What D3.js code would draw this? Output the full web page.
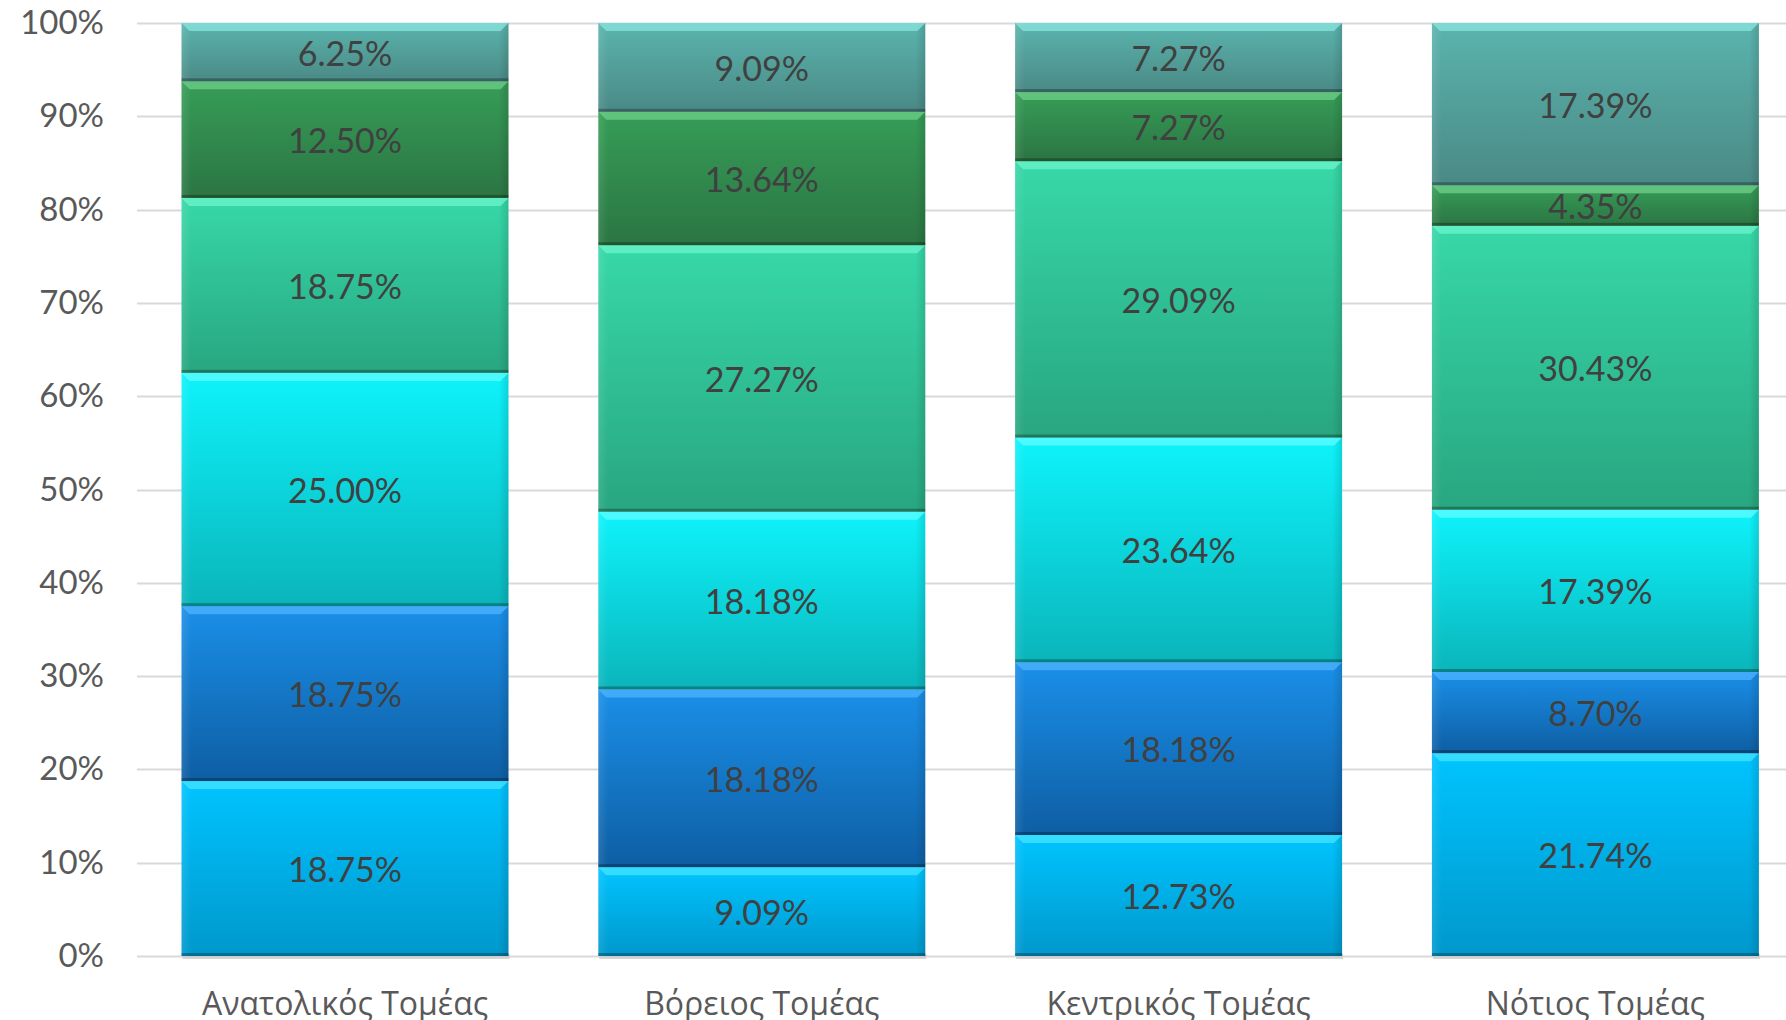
<!DOCTYPE html>
<html>
<head>
<meta charset="utf-8">
<script src="https://cdn.jsdelivr.net/npm/d3@7"></script>
<style>
  html, body { margin: 0; padding: 0; background: #fff; }
  svg { display: block; }
</style>
</head>
<body>
<div id="chart"></div>
<script>
// sectors (x axis)
const sectors = ['Ανατολικός Τομέας', 'Βόρειος Τομέας', 'Κεντρικός Τομέας', 'Νότιος Τομέας'];

// series values, bottom to top (percent labels as printed)
const s1 = [18.75, 9.09, 12.73, 21.74];
const s2 = [18.75, 18.18, 18.18, 8.70];
const s3 = [25.00, 18.18, 23.64, 17.39];
const s4 = [18.75, 27.27, 29.09, 30.43];
const s5 = [12.50, 13.64, 7.27, 4.35];
const s6 = [6.25, 9.09, 7.27, 17.39];

const yTicks = [0, 0.1, 0.2, 0.3, 0.4, 0.5, 0.6, 0.7, 0.8, 0.9, 1];

// gradient stops per series: [top, bottom, highlight]
const palette = [
  ['#00c4ff', '#0098cc', '#45e4ff'],
  ['#1a8fe8', '#0e5ea3', '#4fb4ff'],
  ['#0ef3fb', '#0ab5bb', '#5ffcff'],
  ['#37d8a8', '#28a680', '#6cf5cc'],
  ['#369d57', '#2b7543', '#6fd08a'],
  ['#5bb4ae', '#4a8985', '#8be6df']
];

const W = 1786, H = 1020;
const series = [s1, s2, s3, s4, s5, s6];
const keys = series.map((_, i) => 'k' + i);
const rows = sectors.map((name, j) => {
	const r = { name };
	keys.forEach((k, i) => r[k] = series[i][j]);
	return r;
});

const stacked = d3.stack()
                  .keys(keys)
                  .offset(d3.stackOffsetExpand)(rows);

const x = d3.scaleBand()
            .domain(sectors)
            .range([136.6, 1803.8])
            .paddingInner(0.2155)
            .paddingOuter(0.2155 / 2);

const y = d3.scaleLinear()
            .domain([0, 1])
            .range([956, 23]);

const svg = d3.select('#chart').append('svg')
              .attr('width', W)
              .attr('height', H);

const defs = svg.append('defs');
palette.forEach((c, i) => {
	const g = defs.append('linearGradient')
	              .attr('id', 'grad' + i)
	              .attr('x1', 0).attr('y1', 0)
	              .attr('x2', 0).attr('y2', 1);
	g.append('stop').attr('offset', '0%').attr('stop-color', c[0]);
	g.append('stop').attr('offset', '100%').attr('stop-color', c[1]);
});
const side = defs.append('linearGradient')
                 .attr('id', 'side')
                 .attr('x1', 0).attr('y1', 0).attr('x2', 1).attr('y2', 0);
side.append('stop').attr('offset', '0%').attr('stop-color', '#ffffff').attr('stop-opacity', 0.10);
side.append('stop').attr('offset', '3%').attr('stop-color', '#ffffff').attr('stop-opacity', 0);
side.append('stop').attr('offset', '97%').attr('stop-color', '#000000').attr('stop-opacity', 0);
side.append('stop').attr('offset', '100%').attr('stop-color', '#000000').attr('stop-opacity', 0.12);

// gridlines
svg.append('g')
   .selectAll('line')
   .data(yTicks)
   .join('line')
   .attr('x1', 137).attr('x2', W)
   .attr('y1', d => Math.round(y(d)) + 0.5)
   .attr('y2', d => Math.round(y(d)) + 0.5)
   .attr('stroke', '#d9d9d9')
   .attr('stroke-width', 2);

// y axis labels
const yAxis = g => g.attr('transform', 'translate(104, 0)')
	.call(d3.axisLeft(y).tickValues(yTicks).tickFormat(d3.format('.0%')).tickSize(0).tickPadding(0))
	.call(c => c.select('.domain').remove())
	.call(c => c.selectAll('text')
	            .attr('font-family', 'Lato, "Noto Sans", sans-serif')
	            .attr('font-size', 33)
	            .attr('fill', '#595959'));
svg.append('g').call(yAxis);

// bar shadow
svg.append('g')
   .selectAll('rect')
   .data(sectors)
   .join('rect')
   .attr('x', d => x(d) + 1)
   .attr('y', y(0) - 2)
   .attr('width', x.bandwidth())
   .attr('height', 5)
   .attr('fill', '#c8c8c8')
   .attr('opacity', 0.7);

// segments
const layers = svg.append('g')
                  .selectAll('g')
                  .data(stacked)
                  .join('g');

const seg = layers.selectAll('g')
                  .data((d, i) => d.map(p => ({ p, i, name: p.data.name, v: p.data[d.key] })))
                  .join('g');

const bw = x.bandwidth();
seg.append('rect')
   .attr('x', d => x(d.name))
   .attr('y', d => y(d.p[1]))
   .attr('width', bw)
   .attr('height', d => y(d.p[0]) - y(d.p[1]))
   .attr('fill', d => `url(#grad${d.i})`);

seg.append('rect')
   .attr('x', d => x(d.name))
   .attr('y', d => y(d.p[1]))
   .attr('width', bw)
   .attr('height', d => y(d.p[0]) - y(d.p[1]))
   .attr('fill', 'url(#side)');

// top bevel highlight
seg.append('path')
   .attr('d', d => {
	   const x0 = x(d.name), x1 = x0 + bw, t = y(d.p[1]);
	   return `M${x0},${t} L${x1},${t} L${x1 - 8},${t + 8} L${x0 + 8},${t + 8} Z`;
   })
   .attr('fill', d => palette[d.i][2])
   .attr('opacity', 0.75);

// bottom dark edge
seg.append('rect')
   .attr('x', d => x(d.name))
   .attr('y', d => y(d.p[0]) - 3)
   .attr('width', bw)
   .attr('height', 3)
   .attr('fill', '#000')
   .attr('opacity', 0.28);

// data labels
seg.append('text')
   .attr('x', d => x(d.name) + bw / 2)
   .attr('y', d => (y(d.p[0]) + y(d.p[1])) / 2)
   .attr('text-anchor', 'middle')
   .attr('dominant-baseline', 'central')
   .attr('font-family', 'Lato, "Noto Sans", sans-serif')
   .attr('font-size', 34)
   .attr('fill', '#404040')
   .text(d => d.v.toFixed(2) + '%');

// x axis labels
const xAxis = g => g.attr('transform', `translate(0, ${y(0)})`)
	.call(d3.axisBottom(x).tickSize(0).tickPadding(0))
	.call(c => c.select('.domain').remove())
	.call(c => c.selectAll('text')
	            .attr('dy', null)
	            .attr('y', 59)
	            .attr('font-family', '"Open Sans", "Noto Sans", sans-serif')
	            .attr('font-size', 32)
	            .attr('fill', '#595959'));
svg.append('g').call(xAxis);
</script>
</body>
</html>
